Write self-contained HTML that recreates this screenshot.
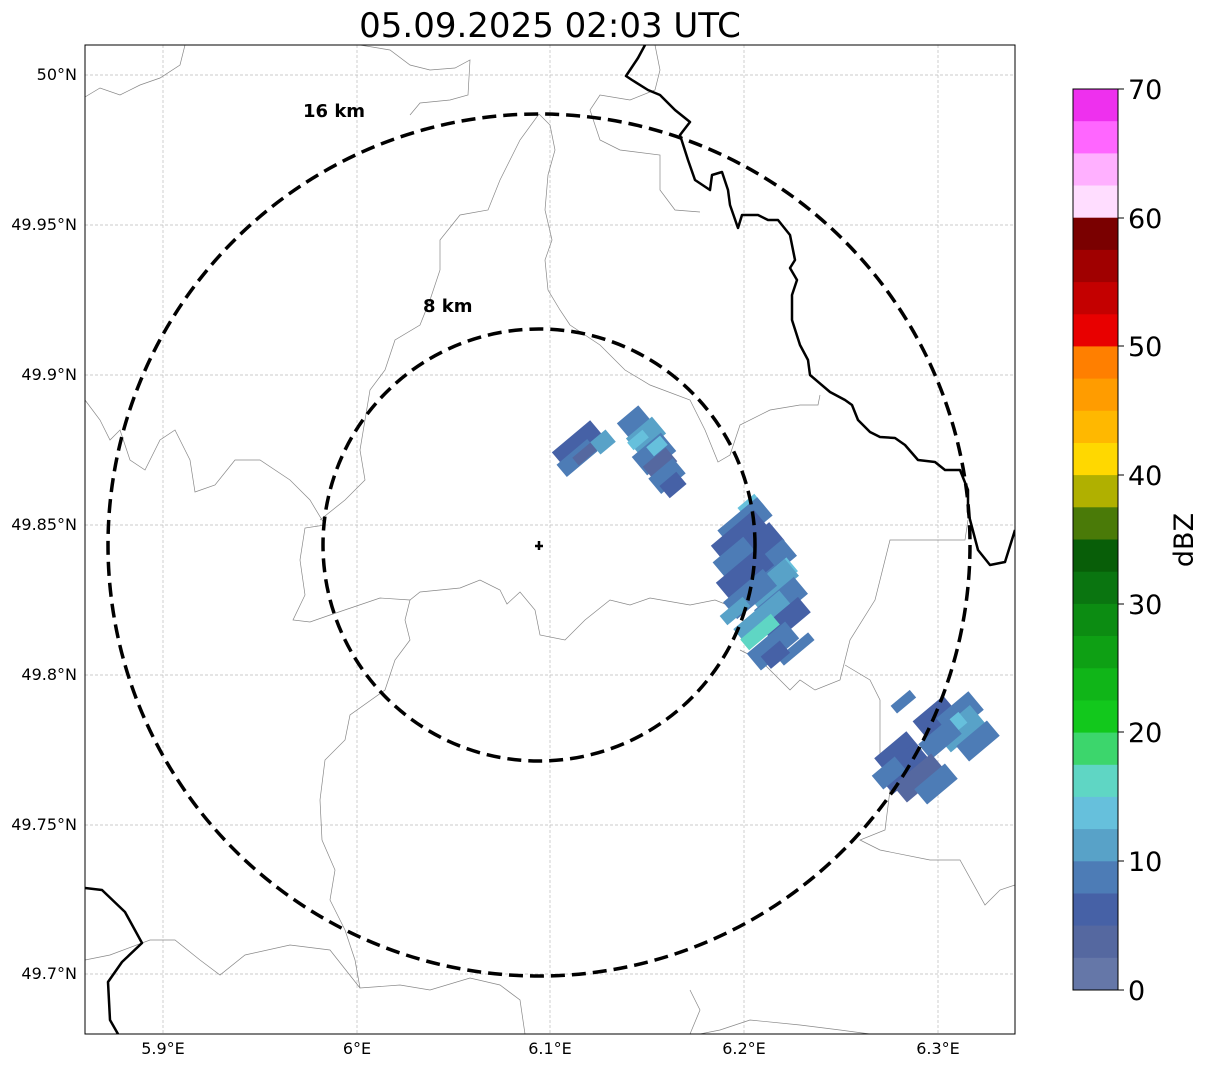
<!DOCTYPE html>
<html><head><meta charset="utf-8"><style>
body{margin:0;background:#fff;width:1207px;height:1069px;overflow:hidden;font-family:"DejaVu Sans",sans-serif}
</style></head><body>
<svg width="1207" height="1069" viewBox="0 0 1207 1069" xmlns="http://www.w3.org/2000/svg" font-family="DejaVu Sans, sans-serif">
<text x="550" y="37" font-size="34" text-anchor="middle">05.09.2025 02:03 UTC</text>
<defs><clipPath id="c"><rect x="85" y="45" width="930" height="989"/></clipPath></defs>
<g clip-path="url(#c)">
<g stroke="#bbb" stroke-width="0.7" stroke-dasharray="3,2">
<line x1="163" y1="45" x2="163" y2="1034"/><line x1="357" y1="45" x2="357" y2="1034"/><line x1="550" y1="45" x2="550" y2="1034"/><line x1="744" y1="45" x2="744" y2="1034"/><line x1="938" y1="45" x2="938" y2="1034"/>
<line x1="85" y1="75" x2="1015" y2="75"/><line x1="85" y1="225" x2="1015" y2="225"/><line x1="85" y1="375" x2="1015" y2="375"/><line x1="85" y1="525" x2="1015" y2="525"/><line x1="85" y1="675" x2="1015" y2="675"/><line x1="85" y1="825" x2="1015" y2="825"/><line x1="85" y1="974" x2="1015" y2="974"/>
</g>
<g fill="none" stroke="#888" stroke-width="0.7">
<polyline points="85,97 100,88 120,95 140,85 160,78 180,65 185,45"/>
<polyline points="360,45 390,50 410,65 430,70 455,68 470,60 468,95 450,100 420,103 410,115"/>
<polyline points="539,114 550,125 555,150 548,175 545,210 552,240 545,260 548,290 560,310 570,325 600,345 625,370 650,385 690,400 705,430 718,462 730,455 740,425 770,410 800,405 818,405 820,395"/>
<polyline points="539,114 520,140 500,180 488,210 460,215 440,240 440,270 430,300 420,325 395,340 385,370 370,390 365,420 360,450 365,480 345,500 320,520"/>
<polyline points="85,400 100,420 110,440 120,430 130,460 145,470 160,440 175,430 190,460 195,492 215,485 235,460 260,460 290,480 310,500 325,525 305,528 300,560 305,595 293,620 310,622 330,615 380,598 410,600 420,592 460,588 480,580 500,590 507,604 520,592 535,610 540,635 565,640 585,620 610,600 630,605 650,598 690,605 715,600 740,610 755,600"/>
<polyline points="410,600 405,620 410,640 395,660 385,690 350,715 345,740 325,760 320,800 322,840 335,870 330,900 345,930 355,960 360,988 400,985 430,990 470,978 500,985 520,1000 525,1034"/>
<polyline points="85,960 110,955 150,940 175,940 200,960 220,975 245,955 290,945 330,950 360,988"/>
<polyline points="655,45 660,70 655,90 630,100 600,95 590,110 600,140 620,150 660,155 660,190 675,210 700,212"/>
<polyline points="740,650 760,660 790,690 800,680 815,690 840,680 850,640 875,600 890,540 965,540 968,520"/>
<polyline points="845,665 870,680 880,700 880,740 880,760 890,790 885,830 860,840 880,850 930,860 960,860 985,905 1000,890 1015,885"/>
<polyline points="700,1034 720,1030 750,1020 800,1025 840,1030 870,1034"/>
<polyline points="690,990 700,1010 690,1034"/>
</g>
<g fill="none" stroke="#000" stroke-width="2.5" stroke-linejoin="round">
<polyline points="645,45 638,58 626,76 632,80 648,90 660,95 675,110 690,122 680,135 688,160 695,180 710,190 712,175 722,172 728,190 730,205 738,228 742,215 758,215 768,220 778,220 790,235 795,260 790,268 797,280 792,295 792,320 800,345 808,360 810,375 830,392 845,400 852,405 858,420 870,432 880,437 895,438 905,445 918,460 935,462 945,470 960,470 968,490 968,512 978,550 990,565 1005,562 1015,530"/>
<polyline points="85,888 102,890 125,912 142,943 122,962 108,982 110,1020 118,1034"/>
</g>
<g>
<!-- blob 1 -->
<rect x="-25" y="-14" width="50" height="28" fill="#4661a6" transform="translate(580,447) rotate(-40)"/>
<rect x="-20" y="-8" width="40" height="16" fill="#4d7cb6" transform="translate(577,458) rotate(-40)"/>
<rect x="-15" y="-5" width="30" height="10" fill="#5568a0" transform="translate(587,452) rotate(-40)"/>
<rect x="-10" y="-8" width="20" height="16" fill="#58a2c8" transform="translate(603,442) rotate(-40)"/>
<!-- blob 2 -->
<rect x="-14" y="-10" width="28" height="20" fill="#4d7cb6" transform="translate(634,422) rotate(-40)"/>
<rect x="-17" y="-11" width="34" height="22" fill="#58a2c8" transform="translate(646,436) rotate(-40)"/>
<rect x="-10" y="-5" width="20" height="10" fill="#66c0dc" transform="translate(638,440) rotate(-40)"/>
<rect x="-19" y="-12" width="38" height="24" fill="#4d7cb6" transform="translate(654,454) rotate(-40)"/>
<rect x="-9" y="-6" width="18" height="12" fill="#66c0dc" transform="translate(657,446) rotate(-40)"/>
<rect x="-15" y="-9" width="30" height="18" fill="#5568a0" transform="translate(660,464) rotate(-40)"/>
<rect x="-16" y="-10" width="32" height="20" fill="#4d7cb6" transform="translate(667,476) rotate(-40)"/>
<rect x="-11" y="-8" width="22" height="16" fill="#4661a6" transform="translate(673,485) rotate(-40)"/>
<!-- blob 3 -->
<rect x="-11" y="-8" width="22" height="16" fill="#66c0dc" transform="translate(751,507) rotate(-40)"/>
<rect x="-26" y="-12" width="52" height="24" fill="#4d7cb6" transform="translate(745,523) rotate(-40)"/>
<rect x="-28" y="-12" width="56" height="24" fill="#4661a6" transform="translate(740,537) rotate(-40)"/>
<rect x="-26" y="-12" width="52" height="24" fill="#4661a6" transform="translate(757,548) rotate(-40)"/>
<rect x="-20" y="-11" width="40" height="22" fill="#4d7cb6" transform="translate(735,558) rotate(-40)"/>
<rect x="-26" y="-11" width="52" height="22" fill="#4d7cb6" transform="translate(770,564) rotate(-40)"/>
<rect x="-12" y="-9" width="24" height="18" fill="#66c0dc" transform="translate(783,572) rotate(-40)"/>
<rect x="-28" y="-12" width="56" height="24" fill="#4661a6" transform="translate(745,574) rotate(-40)"/>
<rect x="-26" y="-11" width="52" height="22" fill="#58a2c8" transform="translate(772,584) rotate(-40)"/>
<rect x="-26" y="-11" width="52" height="22" fill="#4d7cb6" transform="translate(750,594) rotate(-40)"/>
<rect x="-26" y="-11" width="52" height="22" fill="#4d7cb6" transform="translate(781,602) rotate(-40)"/>
<rect x="-15" y="-6" width="30" height="12" fill="#58a2c8" transform="translate(735,611) rotate(-40)"/>
<rect x="-30" y="-12" width="60" height="24" fill="#58a2c8" transform="translate(764,619) rotate(-40)"/>
<rect x="-24" y="-10" width="48" height="20" fill="#4661a6" transform="translate(786,620) rotate(-40)"/>
<rect x="-20" y="-7" width="40" height="14" fill="#5fd6c4" transform="translate(760,632) rotate(-40)"/>
<rect x="-25" y="-11" width="50" height="22" fill="#4d7cb6" transform="translate(773,646) rotate(-40)"/>
<rect x="-20" y="-5" width="40" height="10" fill="#4d7cb6" transform="translate(796,649) rotate(-40)"/>
<rect x="-12" y="-8" width="25" height="16" fill="#4661a6" transform="translate(775,655) rotate(-40)"/>
<!-- blob 4 -->
<rect x="-12" y="-5" width="25" height="10" fill="#4d7cb6" transform="translate(903,702) rotate(-40)"/>
<rect x="-20" y="-11" width="40" height="22" fill="#4661a6" transform="translate(935,717) rotate(-40)"/>
<rect x="-21" y="-12" width="42" height="24" fill="#4d7cb6" transform="translate(960,714) rotate(-40)"/>
<rect x="-22" y="-12" width="45" height="24" fill="#58a2c8" transform="translate(960,729) rotate(-40)"/>
<rect x="-9" y="-7" width="18" height="14" fill="#66c0dc" transform="translate(956,723) rotate(-40)"/>
<rect x="-20" y="-10" width="40" height="20" fill="#4d7cb6" transform="translate(978,741) rotate(-40)"/>
<rect x="-20" y="-10" width="40" height="20" fill="#4d7cb6" transform="translate(940,739) rotate(-40)"/>
<rect x="-21" y="-12" width="42" height="24" fill="#4661a6" transform="translate(898,754) rotate(-40)"/>
<rect x="-25" y="-13" width="50" height="26" fill="#4661a6" transform="translate(904,768) rotate(-40)"/>
<rect x="-25" y="-11" width="50" height="22" fill="#5568a0" transform="translate(919,778) rotate(-40)"/>
<rect x="-20" y="-10" width="40" height="20" fill="#4d7cb6" transform="translate(936,784) rotate(-40)"/>
<rect x="-15" y="-9" width="30" height="18" fill="#4d7cb6" transform="translate(889,773) rotate(-40)"/>
</g>
<g fill="none" stroke="#000" stroke-width="3.5" stroke-dasharray="14,7">
<ellipse cx="539" cy="545" rx="216" ry="216"/>
<ellipse cx="539" cy="545" rx="431" ry="431"/>
</g>
<path d="M539,541v9M535,546h8" stroke="#000" stroke-width="2.5"/>
<text x="303" y="117" font-size="18" font-weight="bold">16 km</text>
<text x="423" y="312" font-size="18" font-weight="bold">8 km</text>
</g>
<rect x="85" y="45" width="930" height="989" fill="none" stroke="#000" stroke-width="1"/>
<g font-size="16" text-anchor="end">
<text x="77" y="80">50°N</text><text x="77" y="230">49.95°N</text><text x="77" y="380">49.9°N</text><text x="77" y="530">49.85°N</text><text x="77" y="680">49.8°N</text><text x="77" y="830">49.75°N</text><text x="77" y="979">49.7°N</text>
</g>
<g font-size="16" text-anchor="middle">
<text x="163" y="1054">5.9°E</text><text x="357" y="1054">6°E</text><text x="550" y="1054">6.1°E</text><text x="744" y="1054">6.2°E</text><text x="938" y="1054">6.3°E</text>
</g>
<g>
<rect x="1073" y="89.0" width="45" height="32.6" fill="#ee30ee"/>
<rect x="1073" y="121.2" width="45" height="32.6" fill="#ff66ff"/>
<rect x="1073" y="153.4" width="45" height="32.6" fill="#ffb0ff"/>
<rect x="1073" y="185.5" width="45" height="32.6" fill="#ffddff"/>
<rect x="1073" y="217.7" width="45" height="32.6" fill="#7a0000"/>
<rect x="1073" y="249.9" width="45" height="32.6" fill="#a00000"/>
<rect x="1073" y="282.1" width="45" height="32.6" fill="#c40000"/>
<rect x="1073" y="314.3" width="45" height="32.6" fill="#e80000"/>
<rect x="1073" y="346.4" width="45" height="32.6" fill="#ff7f00"/>
<rect x="1073" y="378.6" width="45" height="32.6" fill="#ff9c00"/>
<rect x="1073" y="410.8" width="45" height="32.6" fill="#ffb800"/>
<rect x="1073" y="443.0" width="45" height="32.6" fill="#ffd800"/>
<rect x="1073" y="475.1" width="45" height="32.6" fill="#b0b000"/>
<rect x="1073" y="507.3" width="45" height="32.6" fill="#4a7a08"/>
<rect x="1073" y="539.5" width="45" height="32.6" fill="#085e08"/>
<rect x="1073" y="571.7" width="45" height="32.6" fill="#0a7510"/>
<rect x="1073" y="603.9" width="45" height="32.6" fill="#0c8c12"/>
<rect x="1073" y="636.0" width="45" height="32.6" fill="#0ea014"/>
<rect x="1073" y="668.2" width="45" height="32.6" fill="#10b518"/>
<rect x="1073" y="700.4" width="45" height="32.6" fill="#12c81c"/>
<rect x="1073" y="732.6" width="45" height="32.6" fill="#3cd66c"/>
<rect x="1073" y="764.8" width="45" height="32.6" fill="#5fd6c4"/>
<rect x="1073" y="796.9" width="45" height="32.6" fill="#66c0dc"/>
<rect x="1073" y="829.1" width="45" height="32.6" fill="#58a2c8"/>
<rect x="1073" y="861.3" width="45" height="32.6" fill="#4d7cb6"/>
<rect x="1073" y="893.5" width="45" height="32.6" fill="#4661a6"/>
<rect x="1073" y="925.6" width="45" height="32.6" fill="#5568a0"/>
<rect x="1073" y="957.8" width="45" height="32.2" fill="#6577a8"/>
<rect x="1073" y="89" width="45" height="901" fill="none" stroke="#000" stroke-width="1"/>
<g stroke="#000" stroke-width="1"><line x1="1118" y1="89" x2="1124" y2="89"/><line x1="1118" y1="218" x2="1124" y2="218"/><line x1="1118" y1="346" x2="1124" y2="346"/><line x1="1118" y1="475" x2="1124" y2="475"/><line x1="1118" y1="604" x2="1124" y2="604"/><line x1="1118" y1="732" x2="1124" y2="732"/><line x1="1118" y1="861" x2="1124" y2="861"/><line x1="1118" y1="990" x2="1124" y2="990"/></g>
<g font-size="27"><text x="1128" y="99">70</text><text x="1128" y="228">60</text><text x="1128" y="356">50</text><text x="1128" y="485">40</text><text x="1128" y="614">30</text><text x="1128" y="742">20</text><text x="1128" y="871">10</text><text x="1128" y="1000">0</text></g>
<text x="1193" y="540" font-size="27" text-anchor="middle" transform="rotate(-90 1193 540)">dBZ</text>
</g>
</svg>
</body></html>
